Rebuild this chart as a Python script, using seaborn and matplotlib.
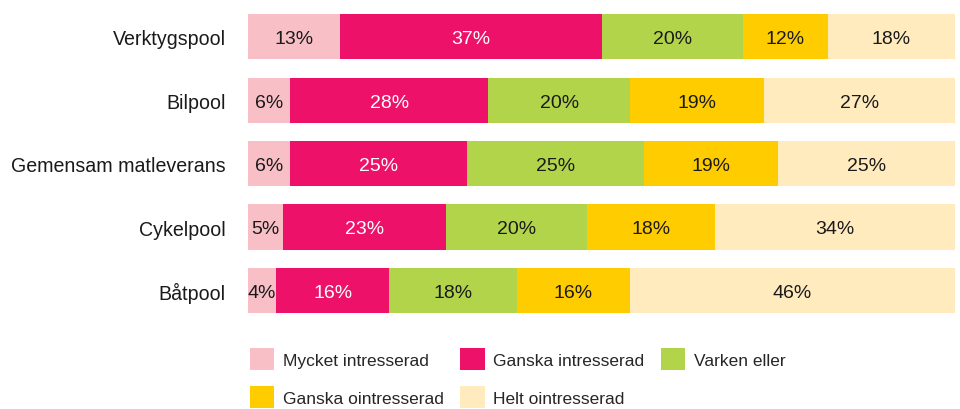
import numpy as np
import pandas as pd
import matplotlib
matplotlib.use('Agg')
import matplotlib.pyplot as plt
import seaborn as sns
from matplotlib.patches import Patch

# data
categories = ['Verktygspool', 'Bilpool', 'Gemensam matleverans', 'Cykelpool', 'Båtpool']
series_names = ['Mycket intresserad', 'Ganska intresserad', 'Varken eller',
                'Ganska ointresserad', 'Helt ointresserad']
mycket = [13, 6, 6, 5, 4]
ganska = [37, 28, 25, 23, 16]
varken = [20, 20, 25, 20, 18]
ganska_oi = [12, 19, 19, 18, 16]
helt_oi = [18, 27, 25, 34, 46]

colors = ['#F8BFC6', '#EE1169', '#B2D44A', '#FFCC00', '#FFEBBE']
text_colors = ['#1a1a1a', 'white', '#1a1a1a', '#1a1a1a', '#1a1a1a']

sns.set_style('white')
plt.rcParams['font.family'] = ['Liberation Sans', 'DejaVu Sans']

values = np.array([mycket, ganska, varken, ganska_oi, helt_oi], dtype=float)
cum = np.cumsum(values, axis=0)

fig = plt.figure(figsize=(9.6, 4.1), dpi=100)
ax = fig.add_axes([248 / 960, 0.212, 707 / 960, 0.773])

# stacked bars: draw cumulative totals from the outermost segment inwards
for i in range(len(series_names) - 1, -1, -1):
    df = pd.DataFrame({'cat': categories, 'val': cum[i]})
    sns.barplot(data=df, x='val', y='cat', orient='h', color=colors[i],
                width=0.71, saturation=1, ax=ax, linewidth=0)

for i in range(len(series_names)):
    for j, cat in enumerate(categories):
        center = cum[i][j] - values[i][j] / 2
        ax.text(center, j + 0.03, f'{int(values[i][j])}%', ha='center', va='center',
                fontsize=14, color=text_colors[i])

ax.set_xlim(0, cum[-1].max())
ax.set_ylim(len(categories) - 0.5, -0.5)
ax.set_xlabel('')
ax.set_ylabel('')
ax.set_xticks([])
ax.tick_params(axis='y', length=0, pad=16, labelsize=14.1, labelcolor='#1a1a1a')
sns.despine(ax=ax, left=True, bottom=True)

handles = [Patch(facecolor=c, edgecolor='none') for c in colors]
order = [0, 3, 1, 4, 2]
fig.legend([handles[k] for k in order], [series_names[k] for k in order],
           loc='upper left', bbox_to_anchor=(250 / 960, 1 - 349 / 410), ncol=3,
           frameon=False, fontsize=12.5, handlelength=1.4, handleheight=1.55,
           handletextpad=0.5, columnspacing=0.95, labelspacing=0.95, borderpad=0,
           borderaxespad=0)

fig.savefig('out.png', dpi=100)
